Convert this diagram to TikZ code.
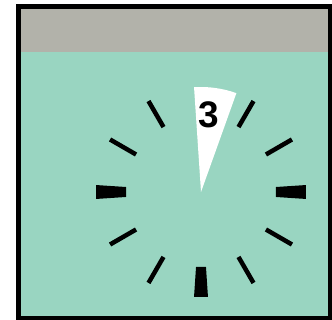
\documentclass[tikz,border=0pt]{standalone}
\usepackage{fontspec}
\setmainfont{Liberation Sans}
\usetikzlibrary{calc}
\definecolor{bandgray}{HTML}{B2B2AA}
\definecolor{faceteal}{HTML}{99D5C1}
\begin{document}
\begin{tikzpicture}[x=1pt,y=1pt,
  thintick/.style={line width=4.5pt,line cap=butt,black},
  thicktick/.style={fill=black,draw=none},
  frame/.style={line width=5pt,draw=black}]
\useasboundingbox (0,0) rectangle (332,320);
\fill[faceteal] (18.5,1.5) rectangle (330.5,313.5);
\fill[bandgray] (18.5,268) rectangle (330.5,313.5);
\draw[frame] (18.5,1.5) rectangle (330.5,313.5);
\coordinate (c) at (201,128);
% wedge
\fill[white] (c) -- ++(70.3:105) arc[start angle=70.3,end angle=93.8,radius=105] -- cycle;
\node[inner sep=0pt,font=\fontsize{37}{37}\selectfont\bfseries] (num) at (208.8,205.3) {3};
% thin ticks
\foreach \a in {30,60,120,150,210,240,300,330}
  \draw[thintick] ($(c)+(\a:75)$) -- ($(c)+(\a:105)$);
% thick ticks
\foreach \a in {0,180,270}
  \fill[thicktick] ($(c)+(\a-3.8:75)$) arc[start angle=\a-3.8,end angle=\a+3.8,radius=75]
    -- ($(c)+(\a+3.8:105)$) arc[start angle=\a+3.8,end angle=\a-3.8,radius=105] -- cycle;
\end{tikzpicture}
\end{document}
